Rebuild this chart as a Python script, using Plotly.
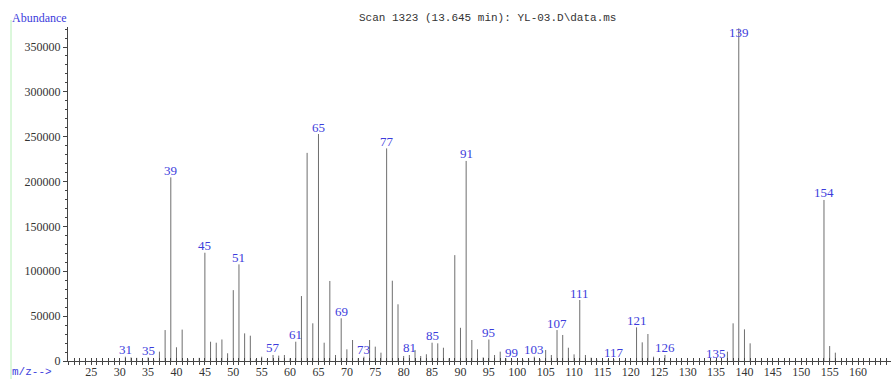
import plotly.graph_objects as go

# ---- data ----
mz = [31, 32, 33, 34, 35, 36, 37, 38, 39, 40, 41, 42, 43, 44, 45, 46, 47, 48, 49, 50,
      51, 52, 53, 54, 55, 56, 57, 58, 59, 60, 61, 62, 63, 64, 65, 66, 67, 68, 69, 70,
      71, 72, 73, 74, 75, 76, 77, 78, 79, 80, 81, 82, 83, 84, 85, 86, 87, 88, 89, 90,
      91, 92, 93, 94, 95, 96, 97, 98, 99, 101, 102, 103, 104, 105, 106, 107, 108, 109, 110, 111,
      112, 113, 114, 116, 117, 118, 119, 121, 122, 123, 124, 125, 126, 135, 137, 138, 139, 140, 141,
      154, 155, 156]
abundance = [4800, 4000, 3500, 2000, 4000, 1500, 10400, 34500, 204700, 15300, 35000, 2000, 3000, 3500, 120700, 21500, 20400, 24000, 8600, 79000,
             107700, 30800, 28200, 2000, 4800, 2000, 6700, 6000, 6700, 3000, 21500, 72400, 232000, 42000, 253000, 20400, 89200, 6700, 47600, 13000,
             23400, 3000, 4800, 23400, 16000, 9300, 237000, 89500, 63200, 5600, 6700, 12300, 5600, 7500, 20400, 19700, 14800, 3000, 118000, 37000,
             223000, 23400, 13000, 4000, 24000, 6700, 10400, 3000, 2000, 1500, 3000, 4800, 2000, 12300, 6700, 34500, 29000, 14800, 7400, 68000,
             6700, 3700, 1500, 1500, 2000, 1000, 1000, 37500, 20800, 30100, 4800, 2500, 6700, 1000, 10400, 42000, 370800, 35300, 19700,
             179500, 16700, 9300]
labeled_mz = [31, 35, 39, 45, 51, 57, 61, 65, 69, 73, 77, 81, 85, 91, 95, 99, 103, 107, 111, 117, 121, 126, 135, 139, 154]
Y_TICK_STEP = 50000
Y_MINOR_STEP = 10000
X_TICK_STEP = 5
X_MINOR_STEP = 1
X_TICK_FIRST, X_TICK_LAST = 21, 165
title_text = "Scan 1323 (13.645 min): YL-03.D\\data.ms"

# ---- layout geometry ----
FIG_W, FIG_H = 891, 379
L, R, T, B = 68, 0, 27, 18
PW, PH = FIG_W - L - R, FIG_H - T - B
X_RANGE = [20.9, 165.8]
Y_MAX = 372300
Y_RANGE = [0, Y_MAX]

BLUE = "#3c3cdc"
BAR = "#6e6e6e"
TXT = "#333333"
AX = "#444444"


def px_x(px):
    return (px - L) / PW


def px_y(py):
    return (T + PH - py) / PH


# x ticks every unit, labelled every 5
x_tickvals = list(range(X_TICK_FIRST, X_TICK_LAST + 1, X_MINOR_STEP))
x_ticktext = [str(v) if v % X_TICK_STEP == 0 else "" for v in x_tickvals]

# stick spectrum
xs, ys = [], []
for m, v in zip(mz, abundance):
    xs += [m, m, None]
    ys += [0, v, None]

fig = go.Figure()
fig.add_trace(go.Scatter(x=xs, y=ys, mode="lines",
                         line=dict(color=BAR, width=1), hoverinfo="skip",
                         showlegend=False, cliponaxis=False))
# invisible trace that activates the overlay axes carrying the outer minor ticks
fig.add_trace(go.Scatter(x=X_RANGE, y=[0, 0], xaxis="x2", yaxis="y2",
                         mode="lines", line=dict(width=0), opacity=0,
                         hoverinfo="skip", showlegend=False))

# peak labels
lookup = dict(zip(mz, abundance))
label_h = 15 * Y_MAX / PH
for m in labeled_mz:
    v = lookup[m]
    if v + label_h > Y_MAX:
        fig.add_annotation(x=m, y=Y_MAX, xref="x", yref="y", text=str(m),
                           showarrow=False, yanchor="top", yshift=4,
                           font=dict(family="Liberation Serif", size=13, color=BLUE))
    else:
        fig.add_annotation(x=m, y=v, xref="x", yref="y", text=str(m),
                           showarrow=False, yanchor="middle", yshift=7,
                           font=dict(family="Liberation Serif", size=13, color=BLUE))

# header texts
fig.add_annotation(x=px_x(10), y=px_y(18), xref="paper", yref="paper",
                   text="Abundance", showarrow=False, xanchor="left", yanchor="middle",
                   font=dict(family="Liberation Serif", size=12, color=BLUE))
fig.add_annotation(x=px_x(357), y=px_y(18), xref="paper", yref="paper",
                   text=title_text, showarrow=False, xanchor="left", yanchor="middle",
                   font=dict(family="Liberation Mono", size=11, color=TXT))
fig.add_annotation(x=px_x(10), y=px_y(372), xref="paper", yref="paper",
                   text="m/z-->", showarrow=False, xanchor="left", yanchor="middle",
                   font=dict(family="Liberation Mono", size=11, color=BLUE))

# faint green frame line at left
fig.add_shape(type="line", xref="paper", yref="paper",
              x0=px_x(11), x1=px_x(11), y0=px_y(379), y1=px_y(20),
              line=dict(color="#b8f0b8", width=1))

fig.update_layout(
    width=FIG_W, height=FIG_H,
    margin=dict(l=L, r=R, t=T, b=B, pad=0, autoexpand=False),
    paper_bgcolor="white", plot_bgcolor="white",
    showlegend=False,
    xaxis=dict(range=X_RANGE, tickmode="array", tickvals=x_tickvals, ticktext=x_ticktext,
               automargin=False,
               showgrid=False, zeroline=False, showline=True, linecolor=AX,
               linewidth=1, ticks="inside", ticklen=3, tickcolor=AX, tickwidth=1,
               tickfont=dict(family="Liberation Serif", size=12, color=TXT)),
    yaxis=dict(range=Y_RANGE, tickmode="linear", tick0=0, dtick=Y_TICK_STEP,
               automargin=False, tickformat="d",
               showgrid=False, zeroline=False, showline=True, linecolor=AX,
               linewidth=1, ticks="outside", ticklen=4, tickcolor=AX, tickwidth=1,
               tickfont=dict(family="Liberation Serif", size=12, color=TXT)),
    xaxis2=dict(range=X_RANGE, overlaying="x", anchor="y2", side="bottom",
                tickmode="linear", tick0=0, dtick=X_MINOR_STEP, automargin=False,
                showticklabels=False, showgrid=False, zeroline=False, showline=False,
                ticks="outside", ticklen=3, tickcolor=AX, tickwidth=1),
    yaxis2=dict(range=Y_RANGE, overlaying="y", anchor="x2", side="left",
                tickmode="linear", tick0=0, dtick=Y_MINOR_STEP, automargin=False,
                showticklabels=False, showgrid=False, zeroline=False, showline=False,
                ticks="outside", ticklen=2, tickcolor=AX, tickwidth=1),
)

fig.write_html("out.html")
